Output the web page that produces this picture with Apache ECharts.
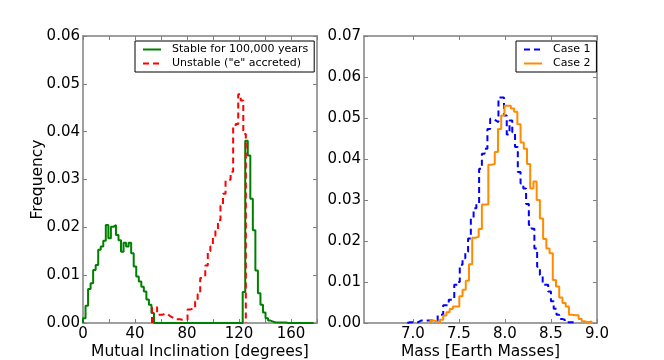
<!DOCTYPE html>
<html>
<head>
<meta charset="utf-8">
<script src="https://cdn.jsdelivr.net/npm/echarts@6/dist/echarts.min.js"></script>
<style>
  html, body { margin: 0; padding: 0; background: #fff; }
  #chart { width: 664px; height: 360px; }
</style>
</head>
<body>
<div id="chart"></div>
<script>
// left panel: mutual inclination histograms (bin width in degrees)
var incBinWidth = 1.95;
var stableStart = 0;
var stableValues = [
  0.0010, 0.0036, 0.0071, 0.0083, 0.0111, 0.0121, 0.0153, 0.0160, 0.0172, 0.0205,
  0.0177, 0.0201, 0.0205, 0.0184, 0.0173, 0.0149, 0.0168, 0.0160, 0.0168, 0.0146,
  0.0118, 0.0097, 0.0087, 0.0076, 0.0066, 0.0049, 0.0038, 0.0021,
  0, 0, 0, 0, 0, 0, 0, 0, 0, 0, 0, 0, 0, 0, 0, 0, 0, 0,
  0, 0, 0, 0, 0, 0, 0, 0, 0, 0, 0, 0, 0, 0, 0, 0, 0,
  0.0065, 0.0381, 0.0350, 0.0260, 0.0194, 0.0110, 0.0062, 0.0038, 0.0022, 0.0010,
  0.0005, 0.0003, 0.0001, 0.0001, 0.0001, 0.0001, 0.0001,
  0, 0, 0, 0, 0, 0, 0, 0, 0, 0, 0
];
var unstableStart = 53.1;
var unstableValues = [
  0.0033, 0.0033, 0.0017, 0.0017, 0.0019, 0.0019, 0.0015, 0.0012, 0.0008, 0.0008,
  0.0008, 0.0007, 0.0007, 0.0007, 0.0028, 0.0030, 0.0030, 0.0045, 0.0060, 0.0094,
  0.0097, 0.0120, 0.0150, 0.0160, 0.0180, 0.0195, 0.0215, 0.0245, 0.0270, 0.0298,
  0.0300, 0.0316, 0.0410, 0.0416, 0.0478, 0.0465, 0.0395
];
var incTicks = [0, 40, 80, 120, 160];

// right panel: mass histograms (bin width in Earth masses)
var case1Start = 6.94;
var case1Width = 0.03;
var case1Values = [
  0.0002, 0.0002, 0.0002, 0.0002, 0.0006, 0.0006, 0.0006, 0.0006, 0.0006, 0.0006,
  0.0006, 0.0020, 0.0020, 0.0043, 0.0043, 0.0057, 0.0057, 0.0093, 0.0100, 0.0142,
  0.0158, 0.0174, 0.0206, 0.0255, 0.0280, 0.0290, 0.0376, 0.0413, 0.0425, 0.0473,
  0.0498, 0.0494, 0.0490, 0.0550, 0.0550, 0.0506, 0.0460, 0.0494, 0.0465, 0.0429,
  0.0368, 0.0340, 0.0328, 0.0290, 0.0239, 0.0230, 0.0182, 0.0137, 0.0117, 0.0093,
  0.0093, 0.0077, 0.0053, 0.0035, 0.0020, 0.0010, 0.0008, 0.0002, 0.0002, 0.0002,
  0.0002
];
var case2Start = 7.19;
var case2Width = 0.035;
var case2Values = [
  0.0006, 0.0004, 0.0001, 0.0008, 0.0018, 0.0026, 0.0034, 0.0040, 0.0040, 0.0065,
  0.0081, 0.0103, 0.0143, 0.0208, 0.0210, 0.0229, 0.0289, 0.0289, 0.0386, 0.0388,
  0.0417, 0.0473, 0.0506, 0.0530, 0.0530, 0.0523, 0.0515, 0.0485, 0.0440, 0.0425,
  0.0388, 0.0328, 0.0345, 0.0300, 0.0255, 0.0205, 0.0182, 0.0170, 0.0105, 0.0089,
  0.0062, 0.0049, 0.0040, 0.0020, 0.0019, 0.0019, 0.0010, 0.0004, 0.0002, 0.0004
];
var massTicks = [7.0, 7.5, 8.0, 8.5, 9.0];

var FONT = "DejaVu Sans";
var frameColor = "#808080";

// histogram outline: up at the first edge, along each bin, down at the last edge
function stepPoints(start, width, vals) {
  var pts = [[start, 0]];
  for (var i = 0; i < vals.length; i++) {
    pts.push([start + i * width, vals[i]]);
  }
  pts.push([start + vals.length * width, 0]);
  return pts;
}

function histSeries(name, color, dashed, xi, yi, pts) {
  return {
    name: name,
    type: "line",
    step: "end",
    xAxisIndex: xi,
    yAxisIndex: yi,
    symbol: "none",
    animation: false,
    lineStyle: { color: color, width: 2, type: dashed ? [6, 4] : "solid" },
    itemStyle: { color: color },
    data: pts
  };
}

var tickStyle = { show: true, inside: true, length: 4, lineStyle: { color: frameColor } };
var lineStyle = { show: true, onZero: false, lineStyle: { color: frameColor, width: 1.5 } };
var labelStyle = { color: "#000", fontFamily: FONT, fontSize: 15 };
var nameStyle = { color: "#000", fontFamily: FONT, fontSize: 15.5 };

var legendBase = {
  orient: "vertical",
  borderColor: "#000", borderWidth: 1, borderRadius: 0,
  padding: [3, 6, 3, 7], itemGap: 3, itemWidth: 18, itemHeight: 10,
  itemStyle: { color: "rgba(0,0,0,0)", borderColor: "rgba(0,0,0,0)", borderWidth: 0 },
  textStyle: { color: "#000", fontFamily: FONT, fontSize: 11, padding: [0, 0, 0, 6] }
};

var chart = echarts.init(document.getElementById("chart"), null, { renderer: "canvas" });
chart.setOption({
  backgroundColor: "#fff",
  animation: false,
  textStyle: { fontFamily: FONT },
  grid: [
    { left: 83, top: 36, width: 234, height: 287, containLabel: false, outerBoundsMode: "none" },
    { left: 364, top: 36, width: 233, height: 287, containLabel: false, outerBoundsMode: "none" }
  ],
  xAxis: [
    {
      type: "value", gridIndex: 0, position: "bottom", min: 0, max: 180, interval: 20,
      name: "Mutual Inclination [degrees]", nameLocation: "middle", nameGap: 21,
      nameMoveOverlap: false, nameTextStyle: nameStyle,
      axisLine: lineStyle, axisTick: tickStyle, splitLine: { show: false },
      axisLabel: Object.assign({ margin: 4, customValues: incTicks }, labelStyle)
    },
    {
      type: "value", gridIndex: 0, position: "top", min: 0, max: 180, interval: 20,
      axisLine: lineStyle, axisTick: tickStyle, splitLine: { show: false },
      axisLabel: { show: false }
    },
    {
      type: "value", gridIndex: 1, position: "bottom", min: 6.47, max: 9.0,
      name: "Mass [Earth Masses]", nameLocation: "middle", nameGap: 21,
      nameMoveOverlap: false, nameTextStyle: nameStyle,
      axisLine: lineStyle,
      axisTick: Object.assign({ customValues: massTicks }, tickStyle),
      splitLine: { show: false },
      axisLabel: Object.assign({
        margin: 4, customValues: massTicks,
        formatter: function (v) { return v.toFixed(1); }
      }, labelStyle)
    },
    {
      type: "value", gridIndex: 1, position: "top", min: 6.47, max: 9.0,
      axisLine: lineStyle,
      axisTick: Object.assign({ customValues: massTicks }, tickStyle),
      splitLine: { show: false }, axisLabel: { show: false }
    }
  ],
  yAxis: [
    {
      type: "value", gridIndex: 0, position: "left", min: 0, max: 0.06, interval: 0.01,
      name: "Frequency", nameLocation: "middle", nameGap: 37, nameRotate: 90,
      nameMoveOverlap: false, nameTextStyle: nameStyle,
      axisLine: lineStyle, axisTick: tickStyle, splitLine: { show: false },
      axisLabel: Object.assign({
        margin: 3, formatter: function (v) { return v.toFixed(2); }
      }, labelStyle)
    },
    {
      type: "value", gridIndex: 0, position: "right", min: 0, max: 0.06, interval: 0.01,
      axisLine: lineStyle, axisTick: tickStyle, splitLine: { show: false },
      axisLabel: { show: false }
    },
    {
      type: "value", gridIndex: 1, position: "left", min: 0, max: 0.07, interval: 0.01,
      axisLine: lineStyle, axisTick: tickStyle, splitLine: { show: false },
      axisLabel: Object.assign({
        margin: 3, formatter: function (v) { return v.toFixed(2); }
      }, labelStyle)
    },
    {
      type: "value", gridIndex: 1, position: "right", min: 0, max: 0.07, interval: 0.01,
      axisLine: lineStyle, axisTick: tickStyle, splitLine: { show: false },
      axisLabel: { show: false }
    }
  ],
  legend: [
    Object.assign({
      data: ["Stable for 100,000 years", 'Unstable ("e" accreted)'],
      left: 135, top: 41
    }, legendBase),
    Object.assign({
      data: ["Case 1", "Case 2"],
      left: 516, top: 41
    }, legendBase)
  ],
  series: [
    histSeries("Stable for 100,000 years", "#008000", false, 0, 0,
      stepPoints(stableStart, incBinWidth, stableValues)),
    histSeries('Unstable ("e" accreted)', "#ff0000", true, 0, 0,
      stepPoints(unstableStart, incBinWidth, unstableValues)),
    histSeries("Case 1", "#0000ff", true, 2, 2,
      stepPoints(case1Start, case1Width, case1Values)),
    histSeries("Case 2", "#ff8c00", false, 2, 2,
      stepPoints(case2Start, case2Width, case2Values))
  ]
});
</script>
</body>
</html>
